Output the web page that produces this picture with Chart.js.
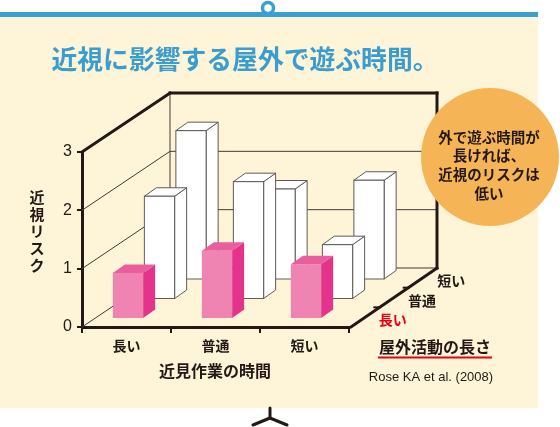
<!DOCTYPE html>
<html lang="ja">
<head>
<meta charset="utf-8">
<script src="https://cdn.jsdelivr.net/npm/chart.js@4"></script>
<style>
  html, body { margin: 0; padding: 0; background: #ffffff; }
  #wrap { width: 560px; height: 427px; position: relative; }
</style>
</head>
<body>
<div id="wrap"><canvas id="riskChart" width="560" height="427"></canvas></div>
<script>
// 近見作業の時間 (front axis) / 屋外活動の長さ (depth rows)
const nearWorkLabels = ["長い", "普通", "短い"];
const outdoorLabels = ["長い", "普通", "短い"];
const riskOutdoorLong = [0.79, 1.17, 0.94];
const riskOutdoorMid = [1.77, 2.02, 0.94];
const riskOutdoorShort = [2.56, 1.56, 1.71];
const riskTicks = [0, 1, 2, 3];

const INK = "#231815";
const FONT = "'Noto Sans CJK JP', 'Noto Sans', sans-serif";

// oblique projection
const WALL_DX = 88, WALL_DY = -59;     // front -> back wall
const ROW_DX = 31.5, ROW_DY = -19.5;   // row step along depth
const ROW0_DX = 1.5, ROW0_DY = -8;     // front row offset
const BAR_DX = 12, BAR_DY = -8.5;      // bar thickness

const drawBox = (ctx, left, top, bottom, w, fill) => {
  ctx.lineWidth = 1;
  ctx.strokeStyle = fill.edge;
  // side
  ctx.beginPath();
  ctx.moveTo(left + w, top);
  ctx.lineTo(left + w + BAR_DX, top + BAR_DY);
  ctx.lineTo(left + w + BAR_DX, bottom + BAR_DY);
  ctx.lineTo(left + w, bottom);
  ctx.closePath();
  ctx.fillStyle = fill.side;
  ctx.fill();
  if (fill.edge) ctx.stroke();
  // top
  ctx.beginPath();
  ctx.moveTo(left, top);
  ctx.lineTo(left + BAR_DX, top + BAR_DY);
  ctx.lineTo(left + w + BAR_DX, top + BAR_DY);
  ctx.lineTo(left + w, top);
  ctx.closePath();
  ctx.fillStyle = fill.top;
  ctx.fill();
  if (fill.edge) ctx.stroke();
  // front
  ctx.fillStyle = fill.front;
  ctx.fillRect(left, top, w, bottom - top);
  if (fill.edge) ctx.strokeRect(left, top, w, bottom - top);
};

const line = (ctx, x1, y1, x2, y2, width) => {
  ctx.lineWidth = width;
  ctx.beginPath();
  ctx.moveTo(x1, y1);
  ctx.lineTo(x2, y2);
  ctx.stroke();
};

const text = (ctx, str, x, y, font, color, align) => {
  ctx.font = font;
  ctx.fillStyle = color;
  ctx.textAlign = align || "center";
  ctx.textBaseline = "middle";
  ctx.fillText(str, x, y);
};

const panelPlugin = {
  id: "panel",
  beforeDraw(chart) {
    const ctx = chart.ctx;
    ctx.save();
    ctx.fillStyle = "#ffffff";
    ctx.fillRect(0, 0, 560, 427);
    ctx.fillStyle = "#FEF5D9";
    ctx.fillRect(0, 14, 538, 394);
    // hook
    ctx.beginPath();
    ctx.arc(268, 8, 5.5, 0, Math.PI * 2);
    ctx.fillStyle = "#ffffff";
    ctx.fill();
    ctx.strokeStyle = "#3AA0CF";
    ctx.lineWidth = 3.5;
    ctx.stroke();
    ctx.fillStyle = "#3AA0CF";
    ctx.fillRect(0, 12, 538, 5);
    // stand
    ctx.strokeStyle = INK;
    ctx.lineCap = "round";
    line(ctx, 270, 408, 270, 418, 3);
    line(ctx, 270, 418, 253, 425, 3);
    line(ctx, 270, 418, 287, 425, 3);
    ctx.lineCap = "butt";

    text(ctx, "近視に影響する屋外で遊ぶ時間。", 245, 59, "bold 25.8px " + FONT, "#3A9DCF");
    ctx.restore();
  },
  beforeDatasetsDraw(chart) {
    const ctx = chart.ctx;
    const ys = chart.scales.y;
    const left = chart.chartArea.left, right = chart.chartArea.right;
    const y0 = ys.getPixelForValue(0);
    const yTop = ys.getPixelForValue(riskTicks[riskTicks.length - 1]);
    ctx.save();
    ctx.strokeStyle = "#3E3A39";

    // walls and grid
    riskTicks.slice(0, -1).forEach((v) => {
      const y = ys.getPixelForValue(v);
      line(ctx, left, y, left + WALL_DX, y + WALL_DY, 1);
      line(ctx, left + WALL_DX, y + WALL_DY, right + WALL_DX, y + WALL_DY, 1);
    });
    line(ctx, left + WALL_DX, yTop + WALL_DY, left + WALL_DX, y0 + WALL_DY, 1);

    // bars back to front
    const fills = [
      { front: "#EF83B1", side: "#E4338A", top: "#EA5E9D", edge: null },
      { front: "#ffffff", side: "#ffffff", top: "#ffffff", edge: "#5F5A56" },
      { front: "#ffffff", side: "#ffffff", top: "#ffffff", edge: "#5F5A56" },
    ];
    for (let k = 2; k >= 0; k--) {
      const meta = chart.getDatasetMeta(k);
      meta.data.forEach((el) => {
        const l = el.x - el.width / 2 + ROW0_DX + k * ROW_DX;
        const dy = ROW0_DY + k * ROW_DY;
        drawBox(ctx, l, el.y + dy, el.base + dy, el.width, fills[k]);
      });
    }

    // heavy frame
    ctx.strokeStyle = INK;
    ctx.lineCap = "square";
    line(ctx, left, yTop, left + WALL_DX, yTop + WALL_DY, 3);
    line(ctx, left + WALL_DX, yTop + WALL_DY, right + WALL_DX, yTop + WALL_DY, 3);
    line(ctx, right + WALL_DX, yTop + WALL_DY, right + WALL_DX, y0 + WALL_DY, 3);
    line(ctx, right + 2, y0, right + WALL_DX, y0 + WALL_DY, 3);
    ctx.lineCap = "butt";

    // depth axis ticks and labels
    [1, 2].forEach((i) => {
      const px = right + (WALL_DX * i) / 3, py = y0 + (WALL_DY * i) / 3;
      line(ctx, px - 5, py, px + 2, py, 2);
    });
    outdoorLabels.forEach((lab, i) => {
      const f = (i + 0.5) / 3;
      const px = right + WALL_DX * f + 29, py = y0 + WALL_DY * f + 3;
      text(ctx, lab, px, py, "bold 14px " + FONT, i === 0 ? "#E60012" : INK);
    });

    // axis titles
    "近視リスク".split("").forEach((ch, i) => {
      text(ctx, ch, 37, 197 + i * 17, "bold 15px " + FONT, INK);
    });
    text(ctx, "近見作業の時間", 215, 371, "bold 16px " + FONT, INK);
    text(ctx, "屋外活動の長さ", 435, 347, "bold 16px " + FONT, INK);
    ctx.strokeStyle = "#E60012";
    line(ctx, 378, 357.5, 492, 357.5, 2);
    text(ctx, "Rose KA et al. (2008)", 431, 377, "13px 'Liberation Sans', Arial, sans-serif", INK);

    // note bubble
    ctx.beginPath();
    ctx.arc(490, 157, 69, 0, Math.PI * 2);
    ctx.fillStyle = "#F5B456";
    ctx.fill();
    ["外で遊ぶ時間が", "長ければ、", "近視のリスクは", "低い"].forEach((s, i) => {
      text(ctx, s, 489, 137 + i * 18.7, "bold 14.5px " + FONT, INK);
    });

    ctx.restore();
    return false;
  },
};

new Chart(document.getElementById("riskChart"), {
  type: "bar",
  data: {
    labels: nearWorkLabels,
    datasets: [
      { label: outdoorLabels[0], data: riskOutdoorLong, backgroundColor: "#EF83B1" },
      { label: outdoorLabels[1], data: riskOutdoorMid, backgroundColor: "#ffffff" },
      { label: outdoorLabels[2], data: riskOutdoorShort, backgroundColor: "#ffffff" },
    ],
  },
  options: {
    responsive: false,
    animation: false,
    devicePixelRatio: 1,
    layout: { padding: { left: 0, top: 152, right: 211, bottom: 0 } },
    datasets: { bar: { grouped: false, categoryPercentage: 1, barPercentage: 0.34 } },
    plugins: { legend: { display: false }, tooltip: { enabled: false } },
    scales: {
      x: {
        offset: true,
        grid: { offset: true, drawOnChartArea: false, tickLength: 6, lineWidth: 2, color: INK },
        border: { display: true, width: 3, color: INK },
        ticks: { color: INK, padding: 4, font: { family: FONT, size: 14, weight: "bold" } },
        afterFit: (s) => { s.height = 100; },
      },
      y: {
        min: riskTicks[0],
        max: riskTicks[riskTicks.length - 1],
        afterBuildTicks: (s) => { s.ticks = riskTicks.map((v) => ({ value: v })); },
        grid: { drawOnChartArea: false, tickLength: 5, lineWidth: 2, color: INK },
        border: { display: true, width: 3, color: INK },
        ticks: { color: INK, padding: 5, font: { family: "'Liberation Sans', Arial, sans-serif", size: 16 } },
        afterFit: (s) => { s.width = 82; },
      },
    },
  },
  plugins: [panelPlugin],
});
</script>
</body>
</html>
